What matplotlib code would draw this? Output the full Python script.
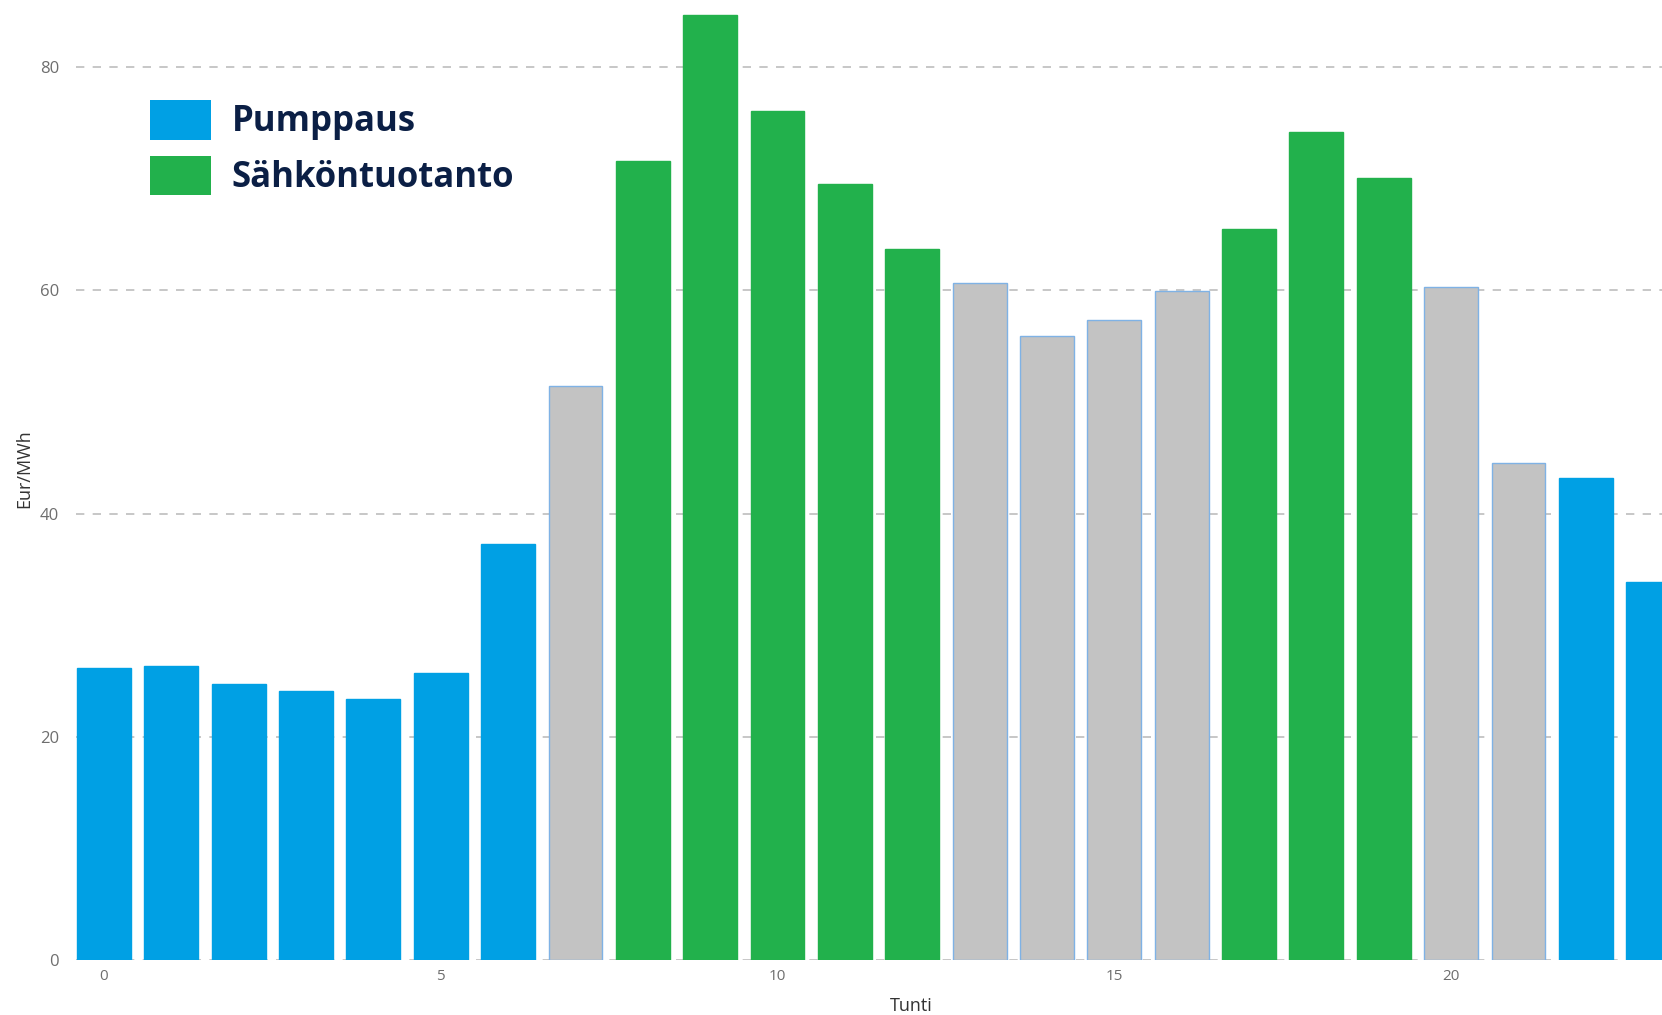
import matplotlib.pyplot as plt
from matplotlib.patches import Patch

plt.rcParams["font.family"] = ["Open Sans", "DejaVu Sans"]

hours = list(range(24))
prices = [26.2, 26.4, 24.7, 24.1, 23.4, 25.7, 37.3, 51.4,
          71.6, 84.7, 76.1, 69.5, 63.7, 60.7, 55.9, 57.3,
          59.9, 65.5, 74.2, 70.1, 60.3, 44.5, 43.2, 33.9]
# P = pumppaus, S = sähköntuotanto, N = ei toimintaa
modes = ["P", "P", "P", "P", "P", "P", "P", "N",
         "S", "S", "S", "S", "S", "N", "N", "N",
         "N", "S", "S", "S", "N", "N", "P", "P"]
legend_labels = ["Pumppaus", "Sähköntuotanto"]

COLORS = {"P": "#00A0E4", "S": "#22B14C", "N": "#C3C3C3"}
EDGES = {"P": "#00A0E4", "S": "#22B14C", "N": "#7FB2E5"}

fig = plt.figure(figsize=(16.62, 10.15), dpi=100)
ax = fig.add_axes([0.0455, 0.0539, 0.9545, 0.9461])

ax.bar(
    hours,
    prices,
    width=0.8,
    color=[COLORS[m] for m in modes],
    edgecolor=[EDGES[m] for m in modes],
    linewidth=1.0,
    zorder=2,
)

ax.set_xlim(-0.42, 23.13)
ax.set_ylim(0, 86)
ax.set_yticks([0, 20, 40, 60, 80])
ax.set_xticks([0, 5, 10, 15, 20])
ax.grid(axis="y", color="#BDBDBD", linestyle=(0, (5, 5)), linewidth=1.2, zorder=0)
ax.grid(axis="x", visible=False)
for spine in ax.spines.values():
    spine.set_visible(False)
ax.tick_params(axis="both", length=0, labelcolor="#6E6E6E")
ax.tick_params(axis="y", pad=12, labelsize=12)
ax.tick_params(axis="x", pad=6, labelsize=11)

ax.set_xlabel("Tunti", fontsize=13, color="#333333")
ax.set_ylabel("Eur/MWh", fontsize=13, color="#333333")
ax.xaxis.set_label_coords(0.527, -0.038)
ax.yaxis.set_label_coords(-0.027, 0.512)

handles = [Patch(facecolor=COLORS["P"]), Patch(facecolor=COLORS["S"])]
ax.legend(
    handles,
    legend_labels,
    loc="upper left",
    bbox_to_anchor=(0.0383, 0.91),
    frameon=False,
    prop={"size": 25, "weight": "bold"},
    labelcolor="#0B1F45",
    handlelength=1.74,
    handleheight=1.36,
    handletextpad=0.6,
    labelspacing=0.45,
    borderaxespad=0,
)

fig.savefig("out.png", dpi=100)
